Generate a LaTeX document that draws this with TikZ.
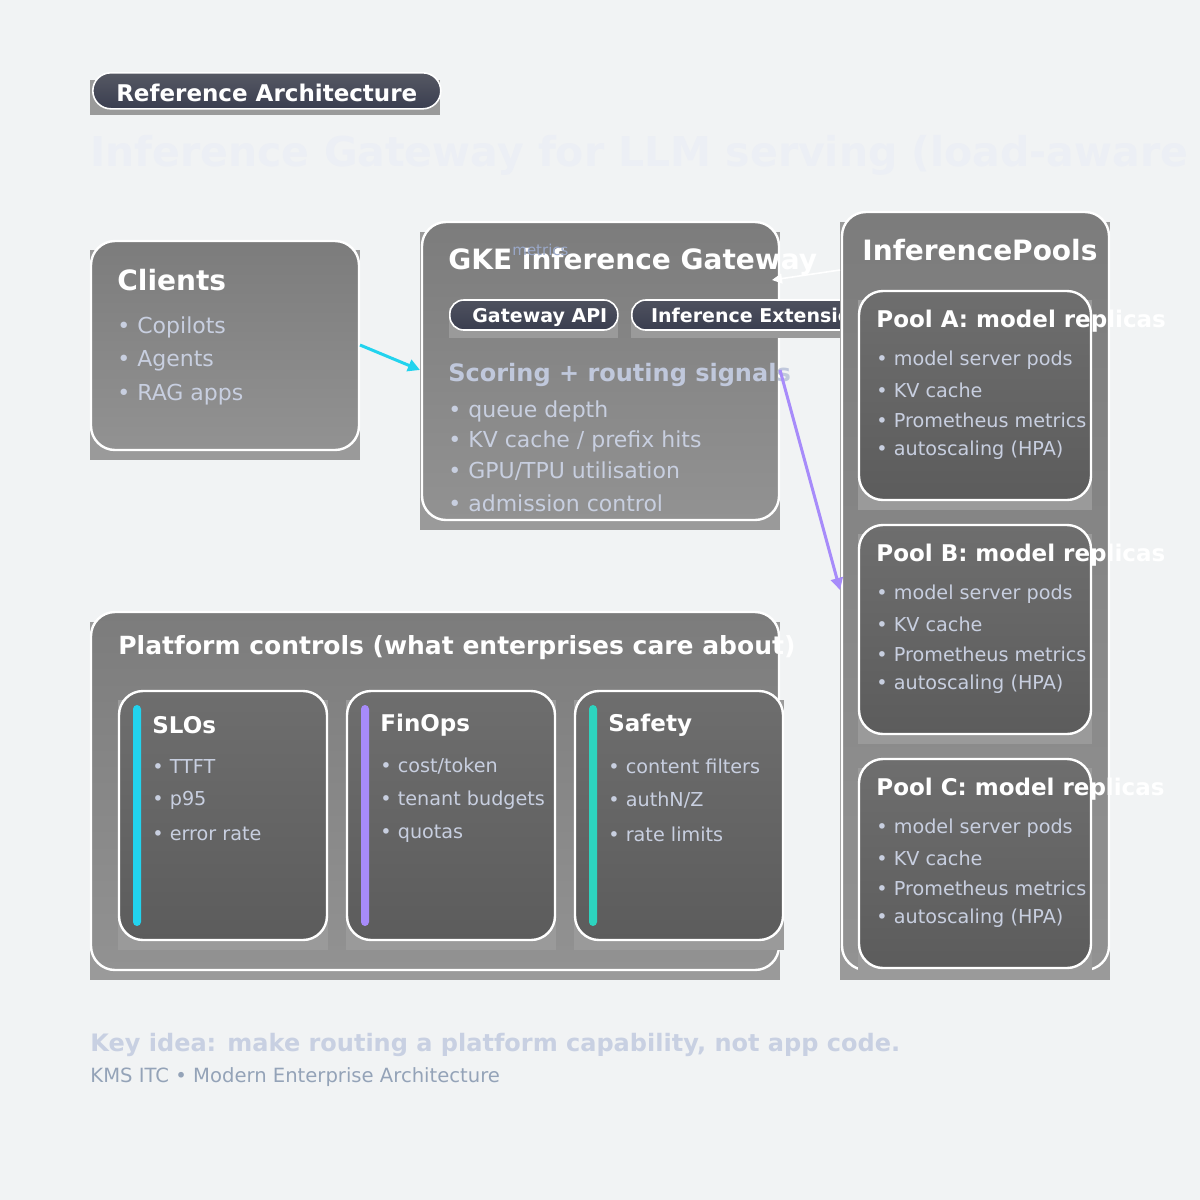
\documentclass[tikz,border=0pt]{standalone}
\usepackage{fontspec}
\setmainfont{DejaVu Sans}
\usetikzlibrary{arrows.meta}
\definecolor{bg}{HTML}{F1F3F4}
\definecolor{boxtop}{HTML}{7C7C7C}
\definecolor{boxbot}{HTML}{929292}
\definecolor{intop}{HTML}{6E6E6E}
\definecolor{inbot}{HTML}{5C5C5C}
\definecolor{shad}{HTML}{9A9A9A}
\definecolor{itemc}{HTML}{C8CFE0}
\definecolor{subc}{HTML}{C0C8DC}
\definecolor{pillc}{HTML}{3A3E50}
\definecolor{cyanc}{HTML}{22D3EE}
\definecolor{purc}{HTML}{A78BFA}
\definecolor{tealc}{HTML}{2DD4BF}
\definecolor{titc}{HTML}{ECEFF5}
\definecolor{footc}{HTML}{C8D0E2}
\definecolor{foot2}{HTML}{94A3B8}
\definecolor{metc}{HTML}{9AA8C8}
\tikzset{
  outerbox/.style={draw=white,line width=1.2pt,rounded corners=12pt,top color=boxtop,bottom color=boxbot},
  innerbox/.style={draw=white,line width=1.2pt,rounded corners=12pt,top color=intop,bottom color=inbot},
  ttl/.style={anchor=west,text=white,font=\bfseries\fontsize{14}{16}\selectfont,inner sep=0},
  sttl/.style={anchor=west,text=white,font=\bfseries\fontsize{11.5}{13}\selectfont,inner sep=0},
  itm/.style={anchor=west,text=itemc,font=\fontsize{11}{13}\selectfont,inner sep=0},
  sitm/.style={anchor=west,text=itemc,font=\fontsize{9.6}{11}\selectfont,inner sep=0},
  pill/.style={draw=white,line width=0.8pt,rounded corners=7pt,top color=pillc!70!gray,bottom color=pillc,text=white,font=\bfseries\fontsize{9.5}{11}\selectfont,anchor=west,inner sep=0,minimum height=15pt,text depth=0pt},
}
\begin{document}
\begin{tikzpicture}[x=0.5pt,y=-0.5pt]
\fill[bg] (0,0) rectangle (1200,1200);
\useasboundingbox (0,0) rectangle (1200,1200);
% header
\fill[shad] (90,80) rectangle (440,115);
\node[draw=white,line width=0.8pt,rounded corners=9pt,top color=pillc!60!gray,bottom color=pillc,minimum width=174pt,minimum height=18pt,anchor=north west,inner sep=0] (hdr) at (92,72) {};
\node[text=white,font=\bfseries\fontsize{11.5}{13}\selectfont] at ([yshift=-1pt]hdr.center) {Reference Architecture};
\node[anchor=west,text=titc,font=\bfseries\fontsize{20.5}{24}\selectfont,inner sep=0] (title) at (90,155) {Inference Gateway for LLM serving (load-aware routing)};
% clients
\fill[shad] (90,250) rectangle (360,460);
\draw[outerbox] (91,241) rectangle (359,450);
\node[ttl] (clt) at (117,280) {Clients};
\node[itm] at (117,327) {• Copilots};
\node[itm] at (117,361) {• Agents};
\node[itm] at (117,395) {• RAG apps};
\coordinate (cl) at (360,345);
% gateway
\fill[shad] (420,232) rectangle (780,530);
\draw[outerbox] (422,222) rectangle (779,520);
\coordinate (gw) at (420,370);
\node[ttl] at (448,262) {GKE inference Gateway};
\node[anchor=west,text=metc,font=\fontsize{7.5}{9}\selectfont,inner sep=0] (met) at (512,250) {metrics};
\fill[shad] (449,308) rectangle (618,338);
\node[pill,minimum width=84pt] (p1) at (449,315) {\hspace{6pt}Gateway API};
\fill[shad] (631,308) rectangle (860,338);
\node[pill,minimum width=120pt] (p2) at (631,315) {\hspace{6pt}Inference Extension};
\node[anchor=west,text=subc,font=\bfseries\fontsize{12}{14}\selectfont,inner sep=0] at (448,375) {Scoring + routing signals};
\node[itm] at (448,411) {• queue depth};
\node[itm] at (448,441) {• KV cache / prefix hits};
\node[itm] at (448,471) {• GPU/TPU utilisation};
\node[itm] at (448,503) {• admission control};
% pools
\fill[shad] (840,222) rectangle (1110,980);
\draw[outerbox] (842,212) rectangle (1109,970);
\node[ttl] (ipt) at (862,250) {InferencePools};
\foreach \n/\y in {A/291,B/525,C/759}{
  \fill[shad] (858,\y+9) rectangle (1092,\y+219);
  \draw[innerbox] (859,\y) rectangle (1091,\y+209);
  \node[sttl] (pool\n) at (876,\y+30) {Pool \n: model replicas};
  \node[sitm] at (876,\y+69) {• model server pods};
  \node[sitm] at (876,\y+99) {• KV cache};
  \node[sitm] at (876,\y+129) {• Prometheus metrics};
  \node[sitm] at (876,\y+159) {• autoscaling (HPA)};
}
\coordinate (pb) at (840,590);
\coordinate (sig) at (780,370);
\coordinate (mfrom) at (840,270);
\coordinate (mto) at (772,280);
% platform
\fill[shad] (90,622) rectangle (780,980);
\draw[outerbox] (91,612) rectangle (779,970);
\node[anchor=west,text=white,font=\bfseries\fontsize{12.5}{14}\selectfont,inner sep=0] at (118,648) {Platform controls (what enterprises care about)};
\foreach \x/\c/\t/\a/\b/\d in {119/cyanc/SLOs/TTFT/p95/error rate,347/purc/FinOps/cost\slash token/tenant budgets/quotas,575/tealc/Safety/content filters/authN\slash Z/rate limits}{
  \fill[shad] (\x-1,700) rectangle (\x+209,950);
  \draw[innerbox] (\x,691) rectangle (\x+208,940);
  \fill[\c,rounded corners=2pt] (\x+14,705) rectangle (\x+22,926);
  \node[sttl] at (\x+33,725) {\t};
  \node[sitm] at (\x+33,766) {• \a};
  \node[sitm] at (\x+33,800) {• \b};
  \node[sitm] at (\x+33,834) {• \d};
}
% arrows
\draw[cyanc,line width=1.5pt,-{Triangle[length=6pt,width=6pt]}] (cl) -- (gw);
\draw[purc,line width=1.5pt,-{Triangle[length=6pt,width=6pt]}] (sig) -- (pb);
\draw[white,line width=0.8pt,-{Triangle[length=5pt,width=5pt]}] (mfrom) -- (mto);
% footer
\node[anchor=west,text=footc,font=\bfseries\fontsize{12}{14}\selectfont,inner sep=0] at (90,1045) {Key idea: make routing a platform capability, not app code.};
\node[anchor=west,text=foot2,font=\fontsize{9.8}{11}\selectfont,inner sep=0] at (90,1077) {KMS ITC • Modern Enterprise Architecture};
\end{tikzpicture}
\end{document}
